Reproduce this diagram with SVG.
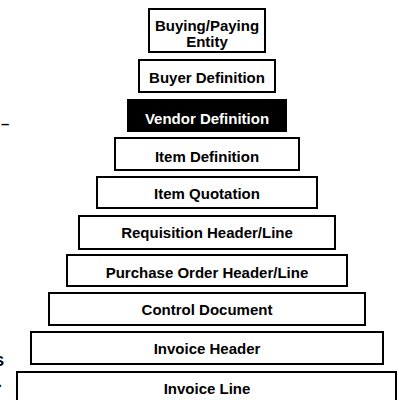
<svg xmlns="http://www.w3.org/2000/svg" width="399" height="400" viewBox="0 0 399 400">
<style>
.box{fill:#fff;stroke:#000;stroke-width:2}
.dark{fill:#000;stroke:#000;stroke-width:2}
.t{font-family:"Liberation Sans",Arial,sans-serif;font-weight:bold;font-size:15px;fill:#000;text-anchor:middle}
.tw{fill:#fff}
.frag{font-family:"Liberation Sans",Arial,sans-serif;font-weight:bold;font-size:15px;fill:#000}
</style>
<rect width="399" height="400" fill="#fff"/>
<g id="connectors"/>
<g id="buying-paying-entity">
<rect class="box" x="149" y="9" width="116" height="43"/>
<text class="t" x="207" y="30.5">Buying/Paying</text>
<text class="t" x="207" y="46.5">Entity</text>
</g>
<g id="buyer-definition">
<rect class="box" x="139" y="60" width="136" height="32"/>
<text class="t" x="207" y="83">Buyer Definition</text>
</g>
<g id="vendor-definition">
<rect class="dark" x="128" y="100" width="158" height="31"/>
<text class="t tw" x="207" y="124">Vendor Definition</text>
</g>
<g id="item-definition">
<rect class="box" x="115" y="138" width="184" height="32"/>
<text class="t" x="207" y="162">Item Definition</text>
</g>
<g id="item-quotation">
<rect class="box" x="97" y="177" width="220" height="31"/>
<text class="t" x="207" y="199">Item Quotation</text>
</g>
<g id="requisition-header-line">
<rect class="box" x="79" y="216" width="256" height="33"/>
<text class="t" x="207" y="237.5">Requisition Header/Line</text>
</g>
<g id="purchase-order-header-line">
<rect class="box" x="67" y="255" width="280" height="31"/>
<text class="t" x="207" y="277.5">Purchase Order Header/Line</text>
</g>
<g id="control-document">
<rect class="box" x="49" y="293" width="316" height="32"/>
<text class="t" x="207" y="314.5">Control Document</text>
</g>
<g id="invoice-header">
<rect class="box" x="31" y="332" width="352" height="32"/>
<text class="t" x="207" y="353.5">Invoice Header</text>
</g>
<g id="invoice-line">
<rect class="box" x="17" y="372" width="379" height="33"/>
<text class="t" x="207" y="393.5">Invoice Line</text>
</g>
<g id="edge-fragments">
<text class="frag" x="1" y="128.5">–</text>
<text class="frag" x="4" y="366" text-anchor="end">S</text>
<text class="frag" x="2" y="387" text-anchor="end">.</text>
</g>
</svg>
